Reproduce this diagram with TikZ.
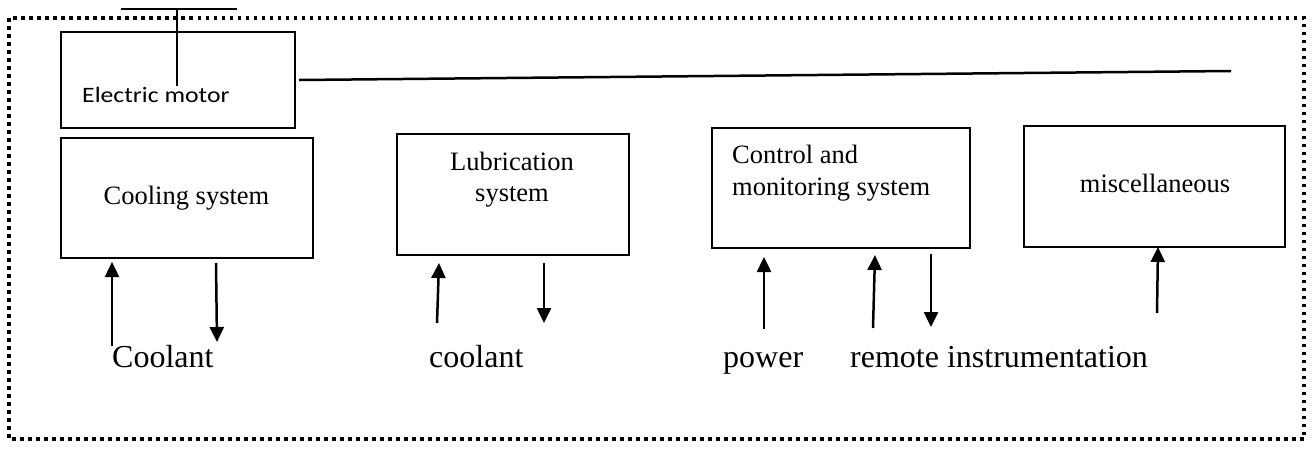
\documentclass[tikz,border=0pt]{standalone}
\usepackage{fontspec}
\setmainfont{Liberation Serif}
\newfontfamily\motorfont{Carlito}[FakeStretch=1.17]
\usetikzlibrary{arrows.meta}
\tikzset{
  box/.style={draw=black, line width=2pt, rectangle, inner sep=0pt, outer sep=0pt},
  boxtxt/.style={inner sep=0pt, anchor=base, font=\fontsize{26.5}{32}\selectfont},
  lbl/.style={inner sep=0pt, anchor=base west, font=\fontsize{32}{38}\selectfont},
  flow/.style={line width=2.5pt, -{Triangle[length=15pt,width=14pt]}},
  thin/.style={line width=2pt},
  border/.style={line width=4pt, dash pattern=on 3.5pt off 4.5pt}
}
\begin{document}
\begin{tikzpicture}[x=1pt,y=-1pt]
\useasboundingbox (0,0) rectangle (1315,448);
\draw[border] (9,18) rectangle (1304,439);

% boxes
\node[box, minimum width=234pt, minimum height=96pt] (motor) at (178,80) {};
\node[box, minimum width=252pt, minimum height=120pt] (cool) at (187,198) {};
\node[box, minimum width=232pt, minimum height=121pt] (lub) at (513,194.5) {};
\node[box, minimum width=258pt, minimum height=120pt] (ctrl) at (841,188) {};
\node[box, minimum width=261pt, minimum height=121pt] (misc) at (1154.5,186.5) {};

% box texts
\node[inner sep=0pt, anchor=base west, font=\motorfont\fontsize{22}{26}\selectfont] (motortxt) at (82,102) {Electric motor};
\node[boxtxt] (cooltxt) at (186.5,204) {Cooling system};
\node[boxtxt] (lubtxt1) at (512,170) {Lubrication};
\node[boxtxt] (lubtxt2) at (512,201) {system};
\node[boxtxt, anchor=base west] (ctrltxt1) at (732,163) {Control and};
\node[boxtxt, anchor=base west] (ctrltxt2) at (732,195) {monitoring system};
\node[boxtxt] (misctxt) at (1155,192) {miscellaneous};

% lines at the motor
\coordinate (topL) at (121,9);
\coordinate (topR) at (237,9);
\coordinate (shaftTop) at (177,9);
\coordinate (shaftBot) at (177,86);
\coordinate (longL) at (299,80);
\coordinate (longR) at (1231,71);
\draw[thin] (topL) -- (topR);
\draw[thin] (shaftTop) -- (shaftBot);
\draw[line width=2.5pt] (longL) -- (longR);

% bottom labels
\node[lbl] (l1) at (112,367) {Coolant};
\node[lbl] (l2) at (429,367) {coolant};
\node[lbl] (l3) at (723,367) {power};
\node[lbl] (l4) at (850,367) {remote instrumentation};

% arrows
\coordinate (a1s) at (112,346); \coordinate (a1e) at (112,262);
\coordinate (a2s) at (216,263); \coordinate (a2e) at (217,342);
\coordinate (a3s) at (437,323); \coordinate (a3e) at (439,263);
\coordinate (a4s) at (544,263); \coordinate (a4e) at (544,323);
\coordinate (a5s) at (764,329); \coordinate (a5e) at (764,257);
\coordinate (a6s) at (873,328); \coordinate (a6e) at (875,255);
\coordinate (a7s) at (931,254); \coordinate (a7e) at (931,327);
\coordinate (a8s) at (1157,313); \coordinate (a8e) at (1158,247);
\draw[flow] (a1s) -- (a1e);
\draw[flow] (a2s) -- (a2e);
\draw[flow] (a3s) -- (a3e);
\draw[flow] (a4s) -- (a4e);
\draw[flow] (a5s) -- (a5e);
\draw[flow] (a6s) -- (a6e);
\draw[flow] (a7s) -- (a7e);
\draw[flow] (a8s) -- (a8e);
\end{tikzpicture}
\end{document}
